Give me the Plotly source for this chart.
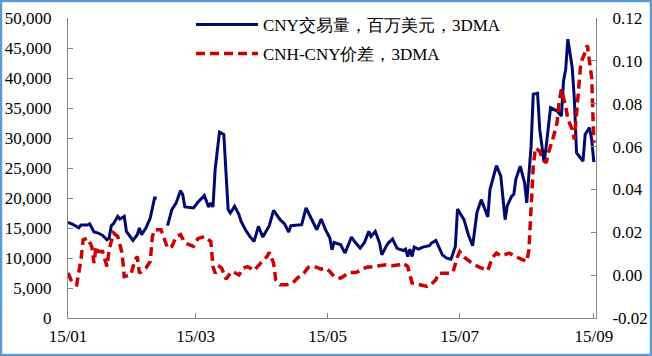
import plotly.graph_objects as go

YEAR = "2015-"

cny_dates = ["01-01","01-03","01-06","01-07","01-10","01-11","01-13","01-15","01-17","01-19",
             "01-20","01-21","01-22","01-24","01-25","01-27","01-28","01-30","01-31","02-02",
             "02-03","02-04","02-06","02-08","02-10","02-11","02-13","02-16","02-18","02-20",
             "02-22","02-23","02-24","02-28","03-02","03-05","03-07","03-08","03-09","03-10",
             "03-12","03-14","03-15","03-16","03-17","03-19","03-21","03-22","03-24","03-26",
             "03-28","03-30","04-01","04-04","04-06","04-09","04-11","04-13","04-14","04-19",
             "04-21","04-22","04-26","04-28","04-30","05-02","05-03","05-04","05-07","05-09",
             "05-12","05-14","05-16","05-18","05-20","05-21","05-23","05-25","05-26","05-28",
             "05-29","05-31","06-02","06-03","06-05","06-06","06-07","06-08","06-09","06-10",
             "06-12","06-14","06-17","06-18","06-20","06-23","06-25","06-27","06-29","06-30",
             "07-03","07-05","07-07","07-09","07-11","07-14","07-15","07-18","07-20","07-22",
             "07-23","07-25","07-26","07-27","07-29","07-31","08-01","08-03","08-04","08-06",
             "08-07","08-09","08-10","08-12","08-15","08-17","08-18","08-19","08-20","08-22",
             "08-23","08-24","08-27","08-28","08-30","08-31","09-01"]
cny_volume = [15950,15650,15050,15500,15500,15700,14330,14160,13760,13040,
              13320,15380,15720,16940,16500,16940,14430,13490,12930,13880,
              15000,13880,15000,16670,20010,20000,None,15380,18060,19180,
              21230,20570,18500,18340,19280,20400,18500,19180,18500,24750,
              30980,30600,24190,18060,17500,18610,17220,16100,14710,13600,
              12760,15270,13490,15380,17940,16390,15720,14330,15380,15550,
              18340,17610,14710,16500,14710,13320,11370,12590,12200,10820,
              13490,12490,11650,12590,14430,13600,14430,12490,10530,11920,
              12490,13160,11650,11490,11250,11490,10250,11490,10250,11820,
              11490,11820,12040,12490,12930,10530,9980,9810,11920,18170,
              16390,13880,12040,17610,19730,16840,21400,25410,23630,16390,
              18730,20280,20570,23190,25300,22520,19180,28640,37290,37450,
              31430,25970,28640,35060,34490,33660,39510,41470,46480,41750,
              36450,27540,26130,30600,31720,29760,25970]

spread_dates = ["01-01","01-03","01-05","01-07","01-08","01-10","01-12","01-13","01-14","01-15",
                "01-17","01-19","01-20","01-22","01-24","01-26","01-27","01-30","02-01","02-02",
                "02-03","02-06","02-08","02-09","02-10","02-13","02-16","02-18","02-20","02-22",
                "02-24","02-26","02-28","03-02","03-05","03-08","03-09","03-10","03-12","03-13",
                "03-15","03-17","03-18","03-21","03-23","03-25","03-28","03-31","04-03","04-04",
                "04-06","04-07","04-09","04-12","04-15","04-17","04-20","04-22","04-25","04-28",
                "04-30","05-02","05-04","05-07","05-09","05-11","05-14","05-17","05-19","05-22",
                "05-25","05-28","05-31","06-03","06-05","06-07","06-08","06-09","06-11","06-13",
                "06-16","06-18","06-20","06-21","06-23","06-27","06-28","06-30","07-01","07-03",
                "07-07","07-10","07-14","07-16","07-18","07-20","07-24","07-26","07-30","08-01",
                "08-02","08-03","08-04","08-05","08-07","08-08","08-10","08-11","08-13","08-15",
                "08-16","08-17","08-19","08-20","08-22","08-23","08-24","08-25","08-26","08-28",
                "08-29","08-31","09-01"]
cnh_cny_spread = [0.001,-0.0037,-0.0045,0.0072,0.0165,0.0173,0.0134,0.0056,0.0134,0.011,
                  0.011,0.004,0.0118,0.0197,0.018,0.0103,-0.0007,0.0001,0.0072,0.0087,
                  0.0009,0.0033,0.0064,0.018,0.0212,0.0212,0.0126,0.0134,0.018,0.0189,
                  0.015,0.0142,0.0134,0.017,0.018,0.0157,0.004,0.0009,0.004,0.0033,
                  -0.0019,0.0009,0.0017,0.0001,0.0033,0.004,0.0022,0.0056,0.0087,0.0106,
                  0.0056,-0.0022,-0.0045,-0.0045,-0.0035,-0.0014,0.0009,0.0036,0.004,0.0028,
                  0.0033,0.0017,-0.0007,-0.0014,0.0001,0.0012,0.0012,0.0025,0.0037,0.004,
                  0.0044,0.0048,0.0044,0.0048,0.0056,0.004,0.0001,-0.0037,-0.0041,-0.0045,
                  -0.0053,-0.0041,-0.0022,0.0006,0.0009,0.0009,0.0017,0.0087,0.011,0.0084,
                  0.0053,0.0037,0.0022,0.008,0.0103,0.009,0.0103,0.009,0.0072,0.0064,
                  0.0118,0.0321,0.0508,0.0594,0.0578,0.0548,0.0524,0.0571,0.0633,0.0711,
                  0.0812,0.0867,0.0789,0.0727,0.068,0.0633,0.0758,0.0883,0.0992,0.1039,
                  0.1073,0.092,0.0618]

x_tick_dates = ["2015-01-01","2015-03-01","2015-05-01","2015-07-01","2015-09-01"]
x_tick_labels = ["15/01","15/03","15/05","15/07","15/09"]
left_ticks = [0,5000,10000,15000,20000,25000,30000,35000,40000,45000,50000]
left_labels = ["0","5,000","10,000","15,000","20,000","25,000","30,000","35,000","40,000","45,000","50,000"]
right_ticks = [-0.02,0.0,0.02,0.04,0.06,0.08,0.10,0.12]
right_labels = ["-0.02","0.00","0.02","0.04","0.06","0.08","0.10","0.12"]

FONT = "Liberation Serif"
FS = 17
AXC = "#868686"

fig = go.Figure()
fig.add_trace(go.Scatter(
    x=[YEAR + d for d in cny_dates], y=cny_volume, mode="lines",
    name="CNY交易量，百万美元，3DMA", connectgaps=False,
    line=dict(color="#000A6E", width=3), yaxis="y", legend="legend"))
fig.add_trace(go.Scatter(
    x=[YEAR + d for d in spread_dates], y=cnh_cny_spread, mode="lines",
    name="CNH-CNY价差，3DMA",
    line=dict(color="#CC0000", width=3.5, dash="9px,5px"), yaxis="y2", legend="legend2"))

L, R, T, B = 68, 56, 18, 38
W, H = 652, 356
pw, ph = W - L - R, H - T - B

fig.update_layout(
    width=W, height=H,
    margin=dict(l=L, r=R, t=T, b=B, autoexpand=False),
    paper_bgcolor="white", plot_bgcolor="white",
    font=dict(family=FONT, size=FS, color="black"),
    showlegend=True,
    legend=dict(x=(191 - L) / pw, y=(T + ph - 25) / ph, xanchor="left", yanchor="middle",
                bgcolor="rgba(0,0,0,0)", font=dict(family=FONT, size=FS), itemwidth=62),
    legend2=dict(x=(191 - L) / pw, y=(T + ph - 54) / ph, xanchor="left", yanchor="middle",
                 bgcolor="rgba(0,0,0,0)", font=dict(family=FONT, size=FS), itemwidth=62),
    xaxis=dict(type="date", range=["2015-01-01", "2015-09-02"], automargin=False,
               tickvals=x_tick_dates, ticktext=x_tick_labels,
               showgrid=False, zeroline=False, showline=True, linecolor=AXC, linewidth=1,
               ticks="inside", ticklen=5, tickcolor=AXC, ticklabelstandoff=3),
    yaxis=dict(range=[0, 50000], tickvals=left_ticks, ticktext=left_labels, automargin=False,
               showgrid=False, zeroline=False, showline=True, linecolor=AXC, linewidth=1,
               ticks="inside", ticklen=5, tickcolor=AXC, ticklabelstandoff=12),
    yaxis2=dict(range=[-0.02, 0.12], tickvals=right_ticks, ticktext=right_labels,
                overlaying="y", side="right", anchor="x", automargin=False,
                showgrid=False, zeroline=False, showline=True, linecolor=AXC, linewidth=1,
                ticks="inside", ticklen=5, tickcolor=AXC, ticklabelstandoff=12),
)

# outer frame of the picture
fig.add_shape(type="rect", xref="paper", yref="paper",
              x0=(1 - L) / pw, x1=(W - 1 - L) / pw,
              y0=(T + ph - (H - 1)) / ph, y1=(T + ph - 1) / ph,
              line=dict(color="#5B9BD5", width=2.5), fillcolor="rgba(0,0,0,0)", layer="above")

fig.write_html("out.html", config={"displayModeBar": False},
               post_script="document.body.style.margin='0';")
